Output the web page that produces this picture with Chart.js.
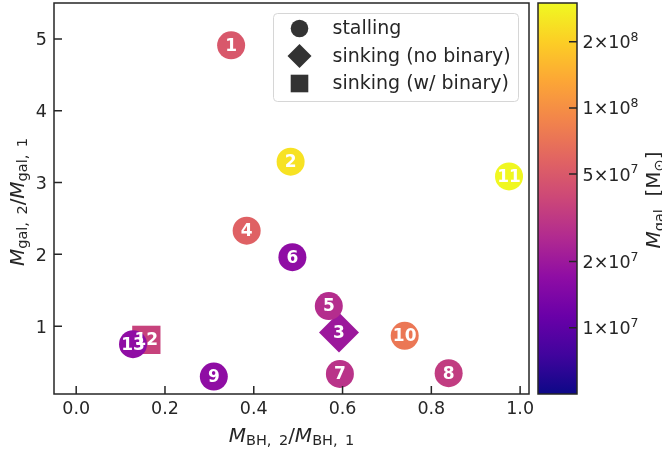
<!DOCTYPE html>
<html><head><meta charset="utf-8">
<script src="https://cdn.jsdelivr.net/npm/chart.js@4/dist/chart.umd.min.js"></script>
<style>html,body{margin:0;padding:0;background:#fff}#wrap{width:662px;height:449px;position:relative}</style>
</head><body><div id="wrap"><canvas id="c" width="662" height="449"></canvas></div>
<script>
// ---- data ----
const stallIds   = [1, 2, 4, 5, 6, 7, 8, 9, 10, 11, 13];
const stallX     = [0.349, 0.483, 0.384, 0.569, 0.487, 0.594, 0.839, 0.310, 0.740, 0.975, 0.128];
const stallY     = [4.91, 3.29, 2.33, 1.28, 1.96, 0.335, 0.345, 0.298, 0.865, 3.085, 0.749];
const stallMgal  = [4.9e7, 2.4e8, 5.6e7, 2.7e7, 1.7e7, 2.9e7, 3.3e7, 1.7e7, 7.4e7, 2.95e8, 1.7e7];

const sinkNoBinIds  = [3];
const sinkNoBinX    = [0.592];
const sinkNoBinY    = [0.911];
const sinkNoBinMgal = [2.0e7];

const sinkBinIds  = [12];
const sinkBinX    = [0.158];
const sinkBinY    = [0.809];
const sinkBinMgal = [3.6e7];

const legendLabels = ['stalling', 'sinking (no binary)', 'sinking (w/ binary)'];
const xTicks = [0.0, 0.2, 0.4, 0.6, 0.8, 1.0];
const xTickLabels = ['0.0', '0.2', '0.4', '0.6', '0.8', '1.0'];
const yTicks = [1, 2, 3, 4, 5];
const yTickLabels = ['1', '2', '3', '4', '5'];
const cbTicks = [1e7, 2e7, 5e7, 1e8, 2e8];
const cbTickMant = ['1', '2', '5', '1', '2'];
const cbTickExp  = ['7', '7', '7', '8', '8'];
const cbMin = 5e6, cbMax = 3e8;

// ---- plasma colormap ----
const plasmaStops = ['#0d0887','#41049d','#6a00a8','#8f0da4','#b12a90','#cc4778','#e16462','#f2844b','#fca636','#fcce25','#f0f921'];
function hex2rgb(h){return [parseInt(h.substr(1,2),16),parseInt(h.substr(3,2),16),parseInt(h.substr(5,2),16)];}
function plasma(t){
  t = Math.max(0, Math.min(1, t));
  const n = plasmaStops.length - 1;
  const i = Math.min(n - 1, Math.floor(t * n));
  const f = t * n - i;
  const a = hex2rgb(plasmaStops[i]), b = hex2rgb(plasmaStops[i+1]);
  return 'rgb(' + a.map((v,k)=>Math.round(v + (b[k]-v)*f)).join(',') + ')';
}
function massColor(m){ return plasma((Math.log10(m)-Math.log10(cbMin))/(Math.log10(cbMax)-Math.log10(cbMin))); }
function pts(xs, ys){ return xs.map((x,i)=>({x:x, y:ys[i]})); }

const TXT = '#262626';
const FONT = 'DejaVu Sans';
const TICKF = '17.5px ' + FONT;

function drawMath(ctx, parts, cx, cy, rot, align){
  ctx.save();
  ctx.translate(cx, cy);
  if (rot) ctx.rotate(rot);
  let w = 0;
  parts.forEach(p => { ctx.font = p.f; p.w = ctx.measureText(p.t).width; w += p.w; });
  let x = align === 'left' ? 0 : -w/2;
  ctx.fillStyle = TXT; ctx.textBaseline = 'alphabetic'; ctx.textAlign = 'left';
  parts.forEach(p => { ctx.font = p.f; ctx.fillText(p.t, x, p.dy||0); x += p.w; });
  ctx.restore();
}

const decor = {
  id: 'decor',
  afterDatasetsDraw(chart){
    const ctx = chart.ctx;
    const idSets = [stallIds, sinkNoBinIds, sinkBinIds];
    ctx.save();
    ctx.fillStyle = '#ffffff';
    ctx.font = 'bold 17px ' + FONT;
    ctx.textAlign = 'center'; ctx.textBaseline = 'middle';
    idSets.forEach((ids, d) => {
      chart.getDatasetMeta(d).data.forEach((el, i) => { ctx.fillText(String(ids[i]), el.x, el.y + 1); });
    });
    ctx.restore();
  },
  afterDraw(chart){
    const ctx = chart.ctx, a = chart.chartArea;
    const xs = chart.scales.x, ys = chart.scales.y, cs = chart.scales.cb;
    ctx.save();
    ctx.strokeStyle = TXT; ctx.lineWidth = 1.5;
    ctx.strokeRect(a.left, a.top, a.right - a.left, a.bottom - a.top);
    ctx.beginPath();
    xTicks.forEach(v => { const p = xs.getPixelForValue(v); ctx.moveTo(p, a.bottom); ctx.lineTo(p, a.bottom - 8); });
    yTicks.forEach(v => { const p = ys.getPixelForValue(v); ctx.moveTo(a.left, p); ctx.lineTo(a.left + 8, p); });
    ctx.stroke();
    // tick labels
    ctx.fillStyle = TXT; ctx.font = TICKF; ctx.textBaseline = 'alphabetic';
    ctx.textAlign = 'center';
    xTicks.forEach((v, i) => ctx.fillText(xTickLabels[i], xs.getPixelForValue(v), a.bottom + 19.5));
    ctx.textAlign = 'right';
    yTicks.forEach((v, i) => ctx.fillText(yTickLabels[i], a.left - 7, ys.getPixelForValue(v) + 6.4));
    // colorbar
    const cbL = a.right + 9, cbR = a.right + 48;
    const yTop = cs.getPixelForValue(cbMax), yBot = cs.getPixelForValue(cbMin);
    const g = ctx.createLinearGradient(0, yBot, 0, yTop);
    plasmaStops.forEach((c, i) => g.addColorStop(i / (plasmaStops.length - 1), c));
    ctx.fillStyle = g;
    ctx.fillRect(cbL, yTop, cbR - cbL, yBot - yTop);
    ctx.strokeRect(cbL, yTop, cbR - cbL, yBot - yTop);
    ctx.beginPath();
    cbTicks.forEach(v => { const p = cs.getPixelForValue(v); ctx.moveTo(cbR, p); ctx.lineTo(cbR - 8, p); });
    ctx.stroke();
    cbTicks.forEach((v, i) => {
      const p = cs.getPixelForValue(v);
      drawMath(ctx, [{t: cbTickMant[i] + '×10', f: TICKF}, {t: cbTickExp[i], f: '12.5px ' + FONT, dy: -7.5}],
        cbR + 5.5, p + 6.4, 0, 'left');
    });
    // legend
    const lw = 245, lh = 88;
    const lx = a.right - 10.5 - lw, ly = a.top + 10.5;
    ctx.fillStyle = 'rgba(255,255,255,0.8)';
    ctx.strokeStyle = '#d6d6d6'; ctx.lineWidth = 1;
    ctx.beginPath();
    if (ctx.roundRect) ctx.roundRect(lx, ly, lw, lh, 4); else ctx.rect(lx, ly, lw, lh);
    ctx.fill(); ctx.stroke();
    const rows = [ly + 15, ly + 42.5, ly + 70];
    const mx = lx + 26;
    ctx.fillStyle = '#333333';
    ctx.beginPath(); ctx.arc(mx, rows[0], 8.8, 0, Math.PI*2); ctx.fill();
    ctx.beginPath(); ctx.moveTo(mx, rows[1]-12); ctx.lineTo(mx+12, rows[1]); ctx.lineTo(mx, rows[1]+12); ctx.lineTo(mx-12, rows[1]); ctx.closePath(); ctx.fill();
    ctx.fillRect(mx - 8.8, rows[2] - 8.8, 17.6, 17.6);
    ctx.fillStyle = TXT; ctx.font = '19px ' + FONT; ctx.textAlign = 'left'; ctx.textBaseline = 'middle';
    legendLabels.forEach((t, i) => ctx.fillText(t, lx + 59, rows[i] + 1));
    ctx.restore();
    // axis titles
    const it = 'italic 20px ' + FONT, rm = '20px ' + FONT, sb = '14.5px ' + FONT;
    drawMath(ctx, [{t:'M',f:it},{t:'BH,\u2009 2',f:sb,dy:3.5},{t:'/',f:rm},{t:'M',f:it},{t:'BH,\u2009 1',f:sb,dy:3.5}],
      (a.left + a.right)/2, 441.5, 0);
    drawMath(ctx, [{t:'M',f:it},{t:'gal,\u2009 2',f:sb,dy:3.5},{t:'/',f:rm},{t:'M',f:it},{t:'gal,\u2009 1',f:sb,dy:3.5}],
      23.5, 202, -Math.PI/2);
    drawMath(ctx, [{t:'M',f:it},{t:'gal',f:sb,dy:3.5},{t:'  [M',f:rm},{t:'\u2299',f:sb,dy:3.5},{t:']',f:rm}],
      660, 200, -Math.PI/2);
  }
};

new Chart(document.getElementById('c'), {
  type: 'scatter',
  data: {
    datasets: [
      { label: legendLabels[0], data: pts(stallX, stallY), pointStyle: 'circle', pointRadius: 14,
        backgroundColor: stallMgal.map(massColor), borderWidth: 0 },
      { label: legendLabels[1], data: pts(sinkNoBinX, sinkNoBinY), pointStyle: 'rectRot', pointRadius: 20,
        backgroundColor: sinkNoBinMgal.map(massColor), borderWidth: 0 },
      { label: legendLabels[2], data: pts(sinkBinX, sinkBinY), pointStyle: 'rect', pointRadius: 20,
        backgroundColor: sinkBinMgal.map(massColor), borderWidth: 0 }
    ]
  },
  options: {
    responsive: false, animation: false, events: [],
    layout: { autoPadding: false, padding: { top: 3, left: 0, right: 0, bottom: 0 } },
    plugins: { legend: { display: false }, tooltip: { enabled: false } },
    scales: {
      x: {
        type: 'linear', position: 'bottom', min: -0.05, max: 1.02,
        grid: { display: false, drawTicks: false }, border: { display: false },
        afterBuildTicks: s => { s.ticks = xTicks.map(v => ({ value: v })); },
        afterFit: s => { s.height = 55; },
        ticks: { display: false }
      },
      y: {
        type: 'linear', position: 'left', min: 0.055, max: 5.5,
        grid: { display: false, drawTicks: false }, border: { display: false },
        afterBuildTicks: s => { s.ticks = yTicks.map(v => ({ value: v })); },
        afterFit: s => { s.width = 54; },
        ticks: { display: false }
      },
      cb: {
        type: 'logarithmic', position: 'right', min: cbMin, max: cbMax,
        grid: { display: false, drawTicks: false }, border: { display: false },
        afterBuildTicks: s => { s.ticks = cbTicks.map(v => ({ value: v })); },
        afterFit: s => { s.width = 133; },
        ticks: { display: false }
      }
    }
  },
  plugins: [decor]
});
</script>
</body></html>
